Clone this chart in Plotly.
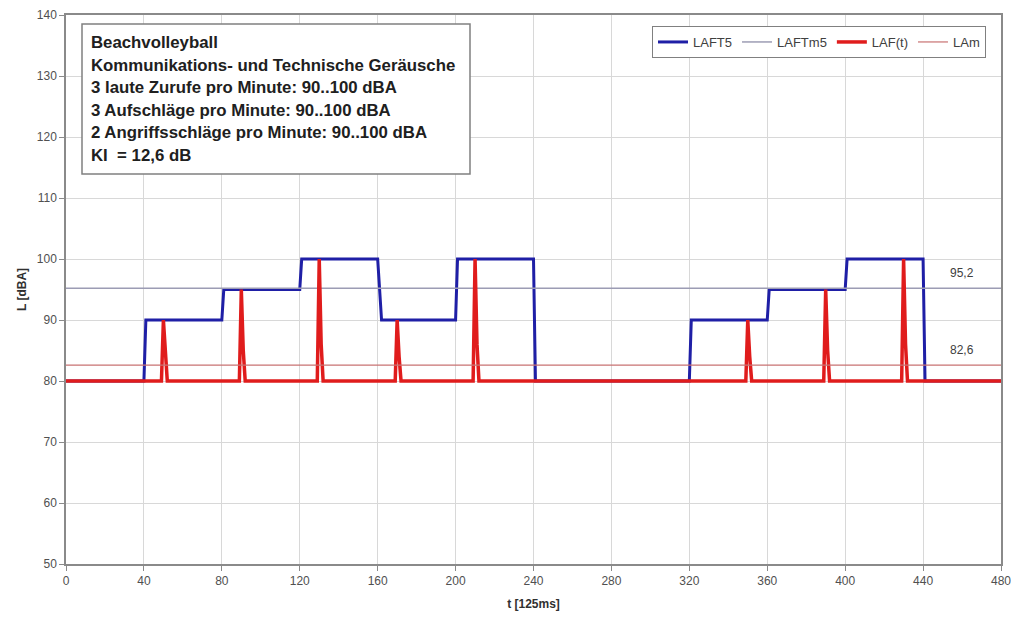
import plotly.graph_objects as go

# ---- data ----
t_laft5 = [0, 40, 41, 80, 81, 120, 121, 160, 162, 200, 201, 240, 241, 320, 321, 360, 361, 400, 401, 440, 441, 480]
laft5 = [80, 80, 90, 90, 95, 95, 100, 100, 90, 90, 100, 100, 80, 80, 90, 90, 95, 95, 100, 100, 80, 80]

t_laf = [0,
         49, 50, 51, 52,
         89, 90, 91, 92,
         129, 130, 131, 132,
         169, 170, 171, 172,
         209, 210, 211, 212,
         349, 350, 351, 352,
         389, 390, 391, 392,
         429, 430, 431, 432,
         480]
laf = [80,
       80, 90, 84, 80,
       80, 95, 85, 80,
       80, 100, 86, 80,
       80, 90, 84, 80,
       80, 100, 86, 80,
       80, 90, 84, 80,
       80, 95, 85, 80,
       80, 100, 86, 80,
       80]

t_range = [0, 480]
laftm5 = [95.2, 95.2]
lam = [82.6, 82.6]

info_lines = [
    "Beachvolleyball",
    "Kommunikations- und Technische Geräusche",
    "3 laute Zurufe pro Minute: 90..100 dBA",
    "3 Aufschläge pro Minute: 90..100 dBA",
    "2 Angriffsschläge pro Minute: 90..100 dBA",
    "KI  = 12,6 dB",
]

x_ticks = list(range(0, 481, 40))
y_ticks = list(range(50, 141, 10))

FONT = "Liberation Sans, Arial, sans-serif"

fig = go.Figure()
fig.add_trace(go.Scatter(x=t_laft5, y=laft5, mode="lines", name="LAFT5",
                         line=dict(color="#1f1fa6", width=3)))
fig.add_trace(go.Scatter(x=t_range, y=laftm5, mode="lines", name="LAFTm5",
                         line=dict(color="#9c9cb4", width=1.5)))
fig.add_trace(go.Scatter(x=t_laf, y=laf, mode="lines", name="LAF(t)",
                         line=dict(color="#e01c1c", width=3.5)))
fig.add_trace(go.Scatter(x=t_range, y=lam, mode="lines", name="LAm",
                         line=dict(color="#c87272", width=1.2)))

# value labels on the mean lines
fig.add_annotation(x=460, y=laftm5[0], yshift=6, text="95,2", showarrow=False,
                   yanchor="bottom", font=dict(family=FONT, size=12, color="#404040"))
fig.add_annotation(x=460, y=lam[0], yshift=6, text="82,6", showarrow=False,
                   yanchor="bottom", font=dict(family=FONT, size=12, color="#404040"))

# info box
plot_top, plot_h = 15, 549
plot_left, plot_w = 66, 935
def px2py(py):
    return 1 - (py - plot_top) / plot_h
def px2px(px):
    return (px - plot_left) / plot_w

fig.add_shape(type="rect", xref="paper", yref="paper",
              x0=px2px(82), x1=px2px(470), y0=px2py(174), y1=px2py(24),
              line=dict(color="#808080", width=1.5), fillcolor="white", layer="above")
for i, line in enumerate(info_lines):
    fig.add_annotation(xref="paper", yref="paper", x=px2px(89), y=px2py(43 + i * 22.4),
                       text="<b>" + line + "</b>", showarrow=False,
                       xanchor="left", yanchor="middle",
                       font=dict(family=FONT, size=16.8, color="#202020"))

axis_common = dict(
    showgrid=True, gridcolor="#d8d8d8", gridwidth=1,
    showline=True, linecolor="#8a8a8a", linewidth=1.5, mirror=True,
    ticks="outside", ticklen=5, tickcolor="#8a8a8a",
    tickfont=dict(family=FONT, size=12, color="#505050"),
    zeroline=False, automargin=False, ticklabeloverflow="allow",
)

fig.update_layout(
    width=1011, height=618,
    margin=dict(l=66, r=10, t=15, b=54),
    paper_bgcolor="white", plot_bgcolor="white",
    font=dict(family=FONT),
    xaxis=dict(range=[0, 480], tickvals=x_ticks,
               title=dict(text="<b>t [125ms]</b>", font=dict(family=FONT, size=12, color="#303030"), standoff=12),
               **axis_common),
    yaxis=dict(range=[50, 140], tickvals=y_ticks,
               title=dict(text="<b>L [dBA]</b>", font=dict(family=FONT, size=12, color="#303030"), standoff=8),
               **axis_common),
    legend=dict(orientation="h", x=px2px(986), xanchor="right", y=px2py(26), yanchor="top",
                bordercolor="#808080", borderwidth=1, bgcolor="white",
                font=dict(family=FONT, size=13, color="#404040"),
                itemwidth=30, tracegroupgap=0),
    showlegend=True,
)

fig.write_html("out.html")
